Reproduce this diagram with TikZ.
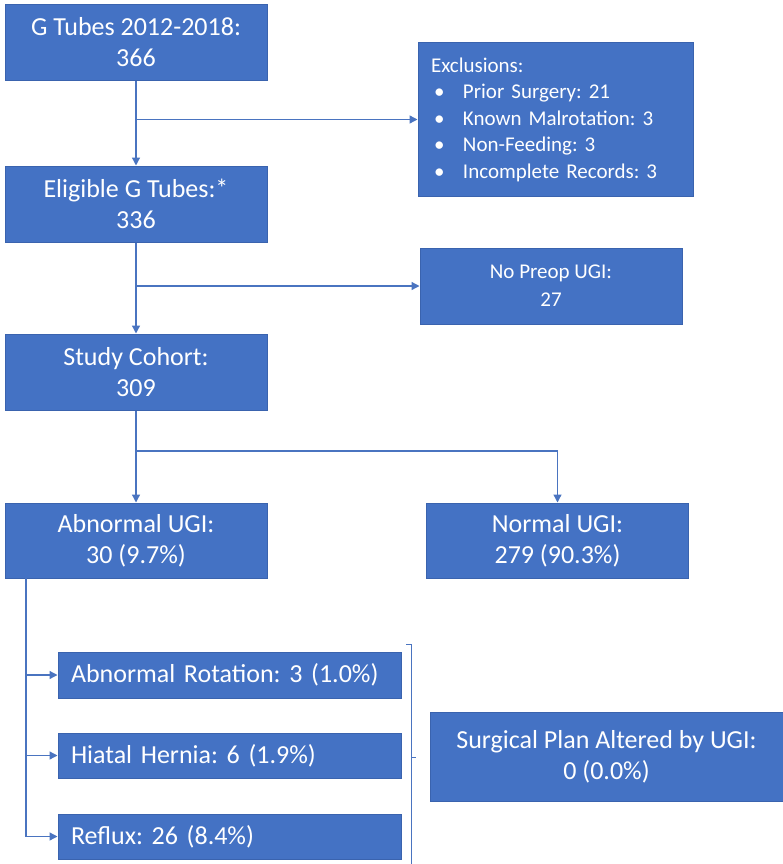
\documentclass[tikz,border=0pt]{standalone}
\usepackage{fontspec}
\setmainfont{Carlito}
\usepackage{xcolor}
\usepackage{tikz}
\usetikzlibrary{arrows.meta}
\usetikzlibrary{positioning}
\usetikzlibrary{calc}
\definecolor{boxblue}{HTML}{4472C4}
\definecolor{boxedge}{HTML}{3A63AE}
\definecolor{linkblue}{HTML}{4A74C0}
\frenchspacing
\tikzset{
  box/.style={draw=boxedge, line width=1pt, fill=boxblue, text=white, inner sep=0pt, align=center},
  bigbox/.style={box, minimum width=262pt, minimum height=76pt, font=\fontsize{26}{31}\selectfont},
  listbox/.style={box, text width=317pt, inner xsep=13pt, minimum height=46pt, align=left, font=\fontsize{26}{28}\selectfont},
  conn/.style={draw=linkblue, line width=1.3pt, -{Triangle[length=8pt,width=8pt]}},
  link/.style={draw=linkblue, line width=1.3pt}
}
\begin{document}
\begin{tikzpicture}[x=1pt,y=-1pt]
  \useasboundingbox (0,0) rectangle (783,864);
  \node[bigbox] (gtubes) at (136,42.5) {G Tubes 2012-2018:\\366};
  \node[box, minimum width=275pt, minimum height=153pt, text width=249pt, align=left, font=\fontsize{21}{26.5}\selectfont] (excl) at (555.5,119.5)
    {Exclusions:\\
     \hspace*{3pt}\makebox[29pt][l]{•}Prior Surgery: 21\\
     \hspace*{3pt}\makebox[29pt][l]{•}Known Malrotation: 3\\
     \hspace*{3pt}\makebox[29pt][l]{•}Non-Feeding: 3\\
     \hspace*{3pt}\makebox[29pt][l]{•}Incomplete Records: 3};
  \node[bigbox] (elig) at (136,204) {Eligible G Tubes:*\\336};
  \node[box, minimum width=262pt, minimum height=76pt, font=\fontsize{21}{28}\selectfont] (nopreop) at (551,286) {No Preop UGI:\\27};
  \node[bigbox] (cohort) at (136,372) {Study Cohort:\\309};
  \node[bigbox, minimum height=75pt] (abn) at (136,540.5) {Abnormal UGI:\\30 (9.7\%)};
  \node[bigbox, minimum height=75pt] (norm) at (557.5,540.5) {Normal UGI:\\279 (90.3\%)};
  \node[listbox] (rot) at (229.5,675) {Abnormal Rotation: 3 (1.0\%)};
  \node[listbox, minimum height=45pt] (hh) at (229.5,755.5) {Hiatal Hernia: 6 (1.9\%)};
  \node[listbox, minimum height=45pt] (refl) at (229.5,836.5) {Reflux: 26 (8.4\%)};
  \node[bigbox, minimum width=353pt, minimum height=89pt] (surg) at (606.5,757) {Surgical Plan Altered by UGI:\\0 (0.0\%)};
  \coordinate (split) at (136,451);
  \coordinate (trunk) at (26,578);
  \coordinate (brtop) at (411,644);
  \coordinate (brbot) at (411,866);
  \draw[conn] (gtubes) -- (elig);
  \draw[conn] (gtubes.south |- excl.west) -- (excl.west);
  \draw[conn] (elig) -- (cohort);
  \draw[conn] (elig.south |- nopreop.west) -- (nopreop.west);
  \draw[conn] (cohort) -- (abn);
  \draw[conn] (split) -| (norm.north);
  \draw[link] (trunk) -- (trunk |- refl.west);
  \draw[conn] (trunk |- rot.west) -- (rot.west);
  \draw[conn] (trunk |- hh.west) -- (hh.west);
  \draw[conn] (trunk |- refl.west) -- (refl.west);
  \draw[line width=1pt, draw=linkblue] ($(brtop)+(-5,0)$) -- (brtop) -- (brbot);
  \draw[line width=1pt, draw=linkblue] (brtop |- surg.west) -- ++(5,0);
\end{tikzpicture}
\end{document}
